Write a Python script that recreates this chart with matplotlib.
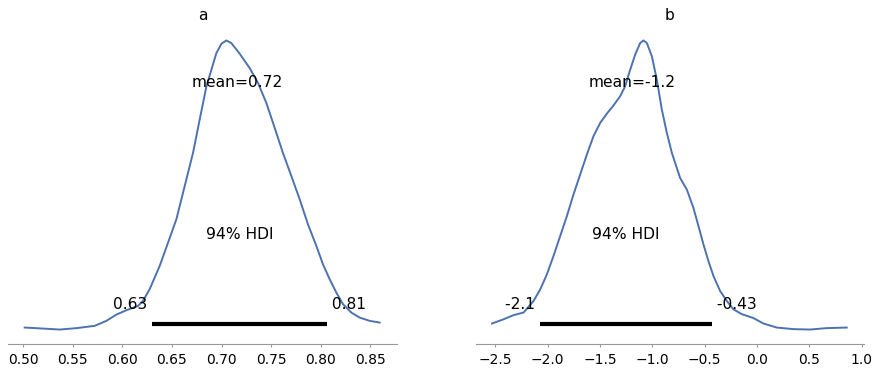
import numpy as np
import matplotlib
matplotlib.use('Agg')
import matplotlib.pyplot as plt

# posterior densities
a_x = [0.5017, 0.5201, 0.5370, 0.5538, 0.5722, 0.5840, 0.5941, 0.6042, 0.6159, 0.6209,
       0.6276, 0.6377, 0.6461, 0.6545, 0.6629, 0.6713, 0.6780, 0.6848, 0.6948, 0.6999,
       0.7049, 0.7100, 0.7183, 0.7284, 0.7368, 0.7452, 0.7536, 0.7619, 0.7704, 0.7788,
       0.7871, 0.7956, 0.8022, 0.8090, 0.8157, 0.8224, 0.8308, 0.8392, 0.8493, 0.8593]
a_dens = [0.071, 0.041, 0.012, 0.053, 0.121, 0.268, 0.453, 0.582, 0.709, 0.856,
          1.200, 1.885, 2.570, 3.259, 4.238, 5.217, 6.200, 7.179, 8.158, 8.435,
          8.532, 8.452, 8.141, 7.717, 7.276, 6.688, 5.953, 5.217, 4.532, 3.847,
          3.112, 2.473, 1.935, 1.494, 1.100, 0.759, 0.512, 0.365, 0.268, 0.218]

b_x = [-2.5315, -2.4208, -2.3253, -2.2299, -2.1344, -2.0704, -2.0065, -1.9435, -1.8795, -1.8156,
       -1.7526, -1.6886, -1.6247, -1.5617, -1.4977, -1.4338, -1.3708, -1.3068, -1.2591, -1.2113,
       -1.1636, -1.1159, -1.0844, -1.0519, -1.0042, -0.9565, -0.9088, -0.8610, -0.8133, -0.7656,
       -0.7341, -0.6701, -0.6071, -0.5594, -0.5117, -0.4640, -0.4162, -0.3522, -0.2883, -0.2253,
       -0.1451, -0.0343, 0.0611, 0.1890, 0.3475, 0.5069, 0.6663, 0.8572]
b_dens = [0.020, 0.033, 0.046, 0.054, 0.090, 0.126, 0.173, 0.230, 0.292, 0.354,
          0.421, 0.483, 0.545, 0.602, 0.643, 0.672, 0.697, 0.726, 0.757, 0.808,
          0.855, 0.891, 0.899, 0.891, 0.850, 0.777, 0.684, 0.612, 0.550, 0.503,
          0.472, 0.436, 0.379, 0.323, 0.266, 0.214, 0.168, 0.121, 0.090, 0.064,
          0.049, 0.037, 0.020, 0.0074, 0.0025, 0.0012, 0.0056, 0.0074]

names = ['a', 'b']
means = [0.716, -1.19]
mean_labels = ['mean=0.72', 'mean=-1.2']
hdi_low = [0.630, -2.077]
hdi_high = [0.806, -0.428]
hdi_low_labels = ['0.63', '-2.1']
hdi_high_labels = ['0.81', '-0.43']
hdi_label = '94% HDI'

xs = [a_x, b_x]
dens = [a_dens, b_dens]
xlims = [(0.4849, 0.8768), (-2.6842, 1.0224)]
ax_rects = [[0.00909, 0.07527, 0.44205, 0.85484], [0.54091, 0.07527, 0.44091, 0.85484]]

fig = plt.figure(figsize=(8.8, 3.72), dpi=100)

for i in range(2):
    ax = fig.add_axes(ax_rects[i])
    ax.plot(xs[i], dens[i], color='#4c72b0', linewidth=1.4)
    ax.set_xlim(xlims[i])
    H = ax.get_ylim()[1]
    ax.plot([hdi_low[i], hdi_high[i]], [H*0.02, H*0.02], lw=3, color='k', solid_capstyle='butt')
    ax.text(hdi_low[i], H*0.07, hdi_low_labels[i] + ' ', size=11.2, ha='right')
    ax.text(hdi_high[i], H*0.07, ' ' + hdi_high_labels[i], size=11.2, ha='left')
    ax.text((hdi_low[i] + hdi_high[i])/2, H*0.3, hdi_label, size=11.2, ha='center')
    ax.text(means[i], H*0.8, mean_labels[i], size=11.2, ha='center')
    ax.set_title(names[i], fontsize=11.2, pad=4.5)
    ax.set_yticks([])
    for s in ['left', 'right', 'top']:
        ax.spines[s].set_visible(False)
    ax.spines['bottom'].set_color('#999999')
    ax.tick_params(axis='x', colors='#999999', labelcolor='black', length=2.5, labelsize=10, pad=4)

plt.savefig('out.png', dpi=100)
plt.close()
